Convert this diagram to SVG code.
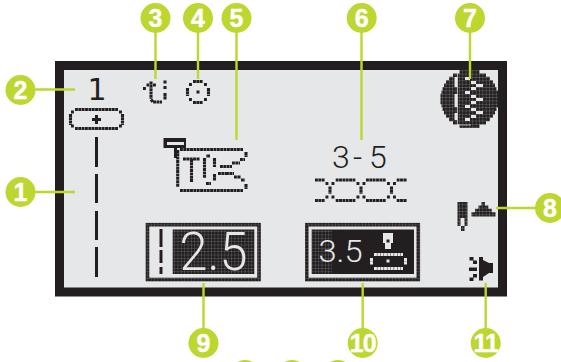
<svg xmlns="http://www.w3.org/2000/svg" width="561" height="362" viewBox="0 0 561 362">
<style>
.d{fill:none;stroke:#231f20;stroke-width:3.1;stroke-dasharray:2.9 .45}
.s{fill:none;stroke:#231f20;stroke-width:3}
.w{fill:none;stroke:#e6e7e8;stroke-width:3;stroke-dasharray:2.9 .45}
.c{fill:#bed630}
.l{stroke:#bed630;stroke-width:2.4;fill:none}
.n{font-family:"Liberation Sans",Arial,sans-serif;font-weight:700;font-size:25px;fill:#fff;text-anchor:middle;stroke:#fff;stroke-width:.4}
.lcd{font-family:"Roboto","Liberation Sans",sans-serif;font-weight:300}
.k{fill:#231f20}
.p{fill:#e6e7e8}
</style>
<defs>
<pattern id="g" width="3.35" height="3.35" patternUnits="userSpaceOnUse">
<path d="M0 0H3.35M0 0V3.35" stroke="#e6e7e8" stroke-width=".6" fill="none" opacity=".5"/>
</pattern>
<pattern id="t" width="3.35" height="3.35" patternUnits="userSpaceOnUse">
<rect width="3.35" height="3.35" fill="#231f20"/>
<path d="M0 0H3.35M0 0V3.35" stroke="#e6e7e8" stroke-width=".35" fill="none"/>
</pattern>
</defs>
<rect width="561" height="362" fill="#fff"/>
<g id="lcd-frame">
<rect x="59.500" y="65.500" width="443" height="226.500" fill="#e6e7e8" stroke="#231f20" stroke-width="9"/>
</g>

<g id="icon-disc">
<path fill="url(#t)" d="M459.500 70h20v3.400h-20zM453 73.400h33v3.400h-33zM449 76.800h41v3.400h-41zM446 80.200h47v3.400h-47zM444 83.600h51v3.400h-51zM442.500 87h54v3.400h-54zM441.500 90.400h56.500v3.400h-56.500zM440.500 93.800h57.500v10.400h-57.500zM441.500 104.200h56.500v3.400h-56.500zM442.500 107.600h54v3.400h-54zM444 111h51v3.400h-51zM446 114.400h47v3.400h-47zM449 117.800h41v3.400h-41zM453 121.200h33v3.400h-33zM459.500 124.600h20v3.400h-20z"/>
<path fill="#e6e7e8" d="M454.500 77h3v10h-3zM454.500 94h3v13h-3zM454.500 113h3v7h-3zM465 77h5v3h-5zM471 81h5v3h-5zM476 84h7v3h-7zM471 87h5v3h-5zM465 91h5v3h-5zM471 95h5v3h-5zM476 98h7v3h-7zM471 101h5v3h-5zM465 105h5v3h-5zM471 108h5v3h-5zM476 111h7v3h-7zM471 115h5v3h-5zM465 118h5v3h-5z"/>
<path stroke="#e6e7e8" stroke-width=".7" fill="none" d="M457.500 71V125H471"/>
</g>

<g id="stitch-length-bar">
<path class="s" d="M96.500 137V167M96.500 174V203M96.500 211V240M96.500 247V277"/>
</g>
<g id="stitch-number">
<text x="97" y="99.500" font-size="30" text-anchor="middle" class="k" style="font-family:'DejaVu Sans',sans-serif">1</text>
</g>
<g id="memory-pill">
<path class="d" d="M75 109.500H118M118 128.500H75M70.500 114V125M122.500 114V125M119 112H122M71 112H74M119 126H122M71 126H74"/>
<path d="M92 119.500H101M96.500 115V124" stroke="#231f20" stroke-width="3" fill="none"/>
</g>
<g id="icon-thread">
<path class="d" d="M143 88.500H146M146.500 85H149M151 81.500V99M153 85H156M151 99.500L153 102H162M165 93V100M165 80.500V83.500M165 86V89"/>
</g>
<g id="icon-bobbin">
<path class="d" d="M193 81.500H203M193 102.500H203M187.500 88V96M208.500 88V96M189 84.500H192M204 84.500H207M189 99.500H192M204 99.500H207"/>
<rect x="196.500" y="90.500" width="3" height="3" class="k"/>
</g>
<g id="icon-foot">
<path d="M163.500 138h22.500v10h-22.500z" class="k"/>
<rect x="167" y="142" width="17" height="3" class="p"/>
<path class="s" d="M175.500 148V158"/>
<path class="d" d="M177.700 150V187M180 190.500H243M246 184V189M241 180H245M234 177H241M226 173.500H234M218 173.500H226M214.500 174V181M180 149.500H243M246 152V157M240 159.500H245M232 163H240M220 166.500H232M214.500 158V167M210 156H206M204.500 158V178M206 183.500H211M183 159H200M191.500 159V182"/>
</g>
<g id="stitch-width">
<text class="lcd" y="168" font-size="32" x="332 353 369" style="fill:#231f20">3-5</text>
</g>
<g id="stitch-pattern">
<path class="d" d="M315 180H325M335.700 180H355.700M366 180H386M396.700 180H407M315 200.500H325M335.700 200.500H355.700M366 200.500H386M396.700 200.500H407M330 186.500V194M361 186.500V194M391.500 186.500V194M325.500 183.500H328.500M331.500 183.500H334.500M325.500 197H328.500M331.500 197H334.500M356.500 183.500H359.500M362.500 183.500H365.500M356.500 197H359.500M362.500 197H365.500M387 183.500H390M393 183.500H396M387 197H390M393 197H396"/>
</g>
<g id="box-length">
<rect x="147.500" y="224.700" width="111.500" height="54.800" fill="none" stroke="#231f20" stroke-width="3.600"/>
<rect x="145.700" y="223" width="115" height="58" fill="url(#g)"/>
<rect x="172.700" y="229.500" width="81.600" height="44.500" class="k"/>
<path class="s" d="M161 229V247M161 250V263M161 267V274"/>
<text class="lcd" x="213.500" y="270" font-size="53" text-anchor="middle" fill="#e6e7e8" textLength="68" lengthAdjust="spacingAndGlyphs">2.5</text>
<rect x="172.700" y="229.500" width="81.600" height="44.500" fill="url(#g)"/>
</g>
<g id="box-width">
<rect x="306.800" y="224.700" width="111.500" height="54.800" fill="none" stroke="#231f20" stroke-width="3.600"/>
<rect x="305" y="223" width="115" height="58" fill="url(#g)"/>
<rect x="311.700" y="229.500" width="102.300" height="44.500" class="k"/>
<rect x="312" y="229.500" width="20" height="44.500" fill="url(#g)"/>
<text class="lcd" x="340.500" y="262" font-size="31" text-anchor="middle" fill="#e6e7e8" textLength="44" lengthAdjust="spacingAndGlyphs">3.5</text>
<path fill="#e6e7e8" d="M383 233h10v10h-2v6h-6v-6h-2z"/>
<rect x="386.500" y="239.500" width="3" height="3" class="k"/>
<path class="w" d="M374 254.500H403M374 268.500H403M371.500 258V265M405.500 258V265"/>
<rect x="386.500" y="259.500" width="3" height="3" class="p"/>
</g>
<g id="icon-needle-up">
<path fill="url(#t)" d="M457.500 202h10v24h-3v-8h-4v8h-3zM461 226h3.500v5h-3.500z"/>
<path fill="url(#t)" d="M481.500 202h3.400v3.400h3.400v3.400h3.400v3.400h3.800v4.400h-24v-4.400h3.600v-3.400h3.400v-3.400h3z"/>
</g>
<g id="icon-speaker">
<path class="k" d="M479 257H483V260L489 263H493V273H489L483 277V280.500H479ZM469 267.500H477V271H469ZM469.500 257H473.500V260.500H477V264H473V260.500H469.500ZM473 274H477V277.500H473.500V281H469.500V277.500H473Z"/>
</g>

<g id="connectors">
<path class="l" d="M20 192H75M20 89.500H75M155.500 18V79M198 18V79M236.500 18V140M361.500 18V140M470 18V79M550 208H496M203.500 343V283M362.700 343V283M485.700 343V283"/>
</g>

<g id="n1"><circle class="c" cx="20.500" cy="192" r="15"/><text class="n" x="20.500" y="200.700">1</text></g>
<g id="n2"><circle class="c" cx="20.500" cy="90" r="15"/><text class="n" x="20.500" y="98.700">2</text></g>
<g id="n3"><circle class="c" cx="155.500" cy="18" r="15"/><text class="n" x="155.500" y="26.700">3</text></g>
<g id="n4"><circle class="c" cx="198" cy="18" r="15"/><text class="n" x="198" y="26.700">4</text></g>
<g id="n5"><circle class="c" cx="236.500" cy="18" r="15"/><text class="n" x="236.500" y="26.700">5</text></g>
<g id="n6"><circle class="c" cx="361.700" cy="18" r="15"/><text class="n" x="361.700" y="26.700">6</text></g>
<g id="n7"><circle class="c" cx="470" cy="18" r="15"/><text class="n" x="470" y="26.700">7</text></g>
<g id="n8"><circle class="c" cx="550" cy="208" r="15"/><text class="n" x="550" y="216.700">8</text></g>
<g id="n9"><circle class="c" cx="203.500" cy="343" r="15"/><text class="n" x="203.500" y="351.700">9</text></g>
<g id="n10"><circle class="c" cx="362.700" cy="343" r="15"/><text class="n" x="362.700" y="351.700" letter-spacing="-1">10</text></g>
<g id="n11"><circle class="c" cx="485.700" cy="343" r="15"/><text class="n" x="485.700" y="351.700" letter-spacing="-1">11</text></g>
<g id="n12"><circle class="c" cx="245" cy="375" r="15"/></g>
<g id="n13"><circle class="c" cx="292" cy="375" r="15"/></g>
<g id="n14"><circle class="c" cx="338" cy="375" r="15"/></g>
</svg>
